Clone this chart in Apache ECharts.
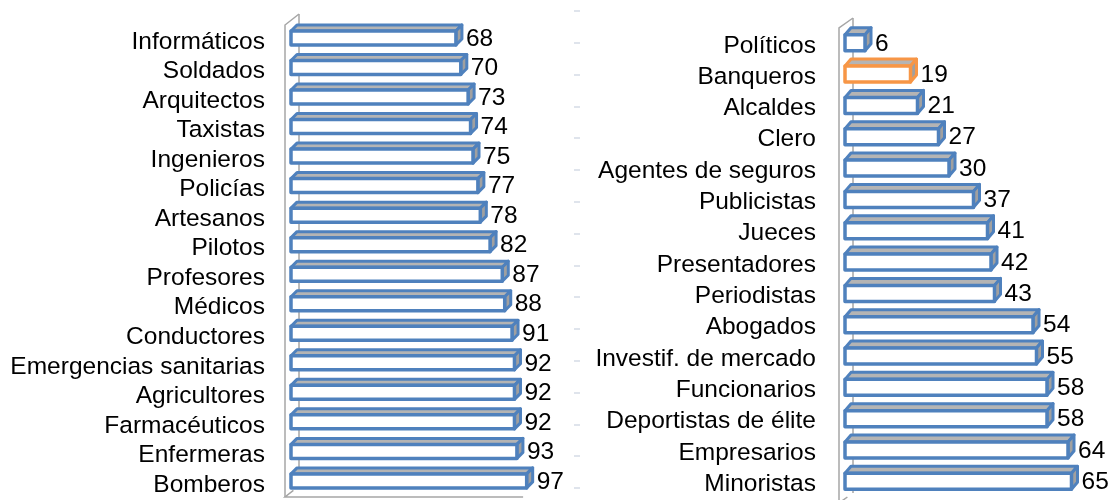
<!DOCTYPE html>
<html><head><meta charset="utf-8">
<script src="https://cdn.jsdelivr.net/npm/echarts@6/dist/echarts.min.js"></script>
<style>html,body{margin:0;padding:0;background:#fff}#c{width:1109px;height:500px}</style>
</head><body><div id="c"></div>
<script>
const leftCats = ['Informáticos','Soldados','Arquitectos','Taxistas','Ingenieros','Policías','Artesanos','Pilotos','Profesores','Médicos','Conductores','Emergencias sanitarias','Agricultores','Farmacéuticos','Enfermeras','Bomberos'];
const leftVals = [68,70,73,74,75,77,78,82,87,88,91,92,92,92,93,97];
const rightCats = ['Políticos','Banqueros','Alcaldes','Clero','Agentes de seguros','Publicistas','Jueces','Presentadores','Periodistas','Abogados','Investif. de mercado','Funcionarios','Deportistas de élite','Empresarios','Minoristas'];
const rightVals = [6,19,21,27,30,37,41,42,43,54,55,58,58,64,65];
const highlightCat = 'Banqueros';
const tickCats = ['','','','','','','','','','','','','','',''];

const BLUE = '#4F81BD', ORANGE = '#F79646', FONT = 'Liberation Sans, Arial, sans-serif';
const FS = 24.5;

function makeRender(frontH, yShift, cats, dx, dy) {
  return function (params, api) {
    const v = api.value(0), idx = api.value(1);
    const p0 = api.coord([0, idx]), p1 = api.coord([v, idx]);
    const x0 = p0[0] + 1, x1 = p1[0];
    const yc = p0[1] + yShift;
    const top = yc - frontH / 2, bot = yc + frontH / 2;
    const col = cats[idx] === highlightCat ? ORANGE : BLUE;
    return {
      type: 'group',
      children: [
        { type: 'polygon', shape: { points: [[x0, top], [x1, top], [x1 + dx, top - dy], [x0 + dx, top - dy]] },
          style: { fill: '#B4B4B4', stroke: col, lineWidth: 3, lineJoin: 'round' } },
        { type: 'polygon', shape: { points: [[x1, top], [x1 + dx, top - dy], [x1 + dx, bot - dy], [x1, bot]] },
          style: { fill: '#A0A0A0', stroke: col, lineWidth: 3, lineJoin: 'round' } },
        { type: 'rect', shape: { x: x0, y: top, width: x1 - x0, height: frontH },
          style: { fill: '#FFFFFF', stroke: col, lineWidth: 3.5, lineJoin: 'round' } },
        { type: 'text', style: { text: String(v), x: x1 + dx + 4, y: yc + 1, verticalAlign: 'middle', align: 'left',
          fill: '#000', font: FS + 'px ' + FONT } }
      ]
    };
  };
}

const chart = echarts.init(document.getElementById('c'));
const catLabel = { color: '#000', fontSize: FS, fontFamily: FONT, interval: 0 };
chart.setOption({
  animation: false,
  grid: [
    { left: 290, top: 27.2, width: 244, height: 472.5 },
    { left: 844, top: 30.1, width: 245, height: 475.7 },
    { left: 580, top: 11, width: 10, height: 477 }
  ],
  xAxis: [
    { gridIndex: 0, type: 'value', min: 0, max: 100, show: false },
    { gridIndex: 1, type: 'value', min: 0, max: 70, show: false },
    { gridIndex: 2, type: 'value', min: 0, max: 1, show: false }
  ],
  yAxis: [
    { gridIndex: 0, type: 'category', data: leftCats, inverse: true,
      axisLine: { show: false }, axisTick: { show: false }, axisLabel: Object.assign({ margin: 25 }, catLabel) },
    { gridIndex: 1, type: 'category', data: rightCats, inverse: true,
      axisLine: { show: false }, axisTick: { show: false }, axisLabel: Object.assign({ margin: 28 }, catLabel) },
    { gridIndex: 2, type: 'category', data: tickCats, inverse: true,
      axisLine: { show: false }, axisLabel: { show: false },
      axisTick: { show: true, length: 6, lineStyle: { color: '#D5DBE6', width: 1.5 } } }
  ],
  series: [
    { type: 'custom', xAxisIndex: 0, yAxisIndex: 0, z: 3, encode: { x: 0, y: 1 },
      data: leftVals.map((v, i) => [v, i]), renderItem: makeRender(14, -4, leftCats, 6, 6) },
    { type: 'custom', xAxisIndex: 1, yAxisIndex: 1, z: 3, encode: { x: 0, y: 1 },
      data: rightVals.map((v, i) => [v, i]), renderItem: makeRender(16, -3, rightCats, 6, 7) }
  ]
});

// 3D wall decoration derived from the grid positions
function wall(gridIdx, xMaxVal, firstCat, lastCat, topY, botY, dx, dy) {
  const origin = chart.convertToPixel({ gridIndex: gridIdx }, [0, firstCat]);
  const far = chart.convertToPixel({ gridIndex: gridIdx }, [xMaxVal, lastCat]);
  const fx = origin[0] - 5;
  const ls = { stroke: '#A6A6A6', lineWidth: 1.5, fill: null };
  return [
    { type: 'polyline', z: 0, shape: { points: [[fx + dx, botY - dy], [fx + dx, topY - dy]] }, style: ls },
    { type: 'polyline', z: 0, shape: { points: [[fx, botY], [fx, topY], [fx + dx, topY - dy]] }, style: ls },
    { type: 'polyline', z: 0, shape: { points: [[fx + dx * 0.6, botY - dy * 0.6], [fx, botY], [far[0] - 6, botY]] }, style: ls }
  ];
}
const g = [].concat(
  wall(0, 98, 0, 15, 25, 497, 14, 11),
  wall(1, 70, 0, 14, 28, 503, 14, 10)
);
chart.setOption({ graphic: g });
</script></body></html>
